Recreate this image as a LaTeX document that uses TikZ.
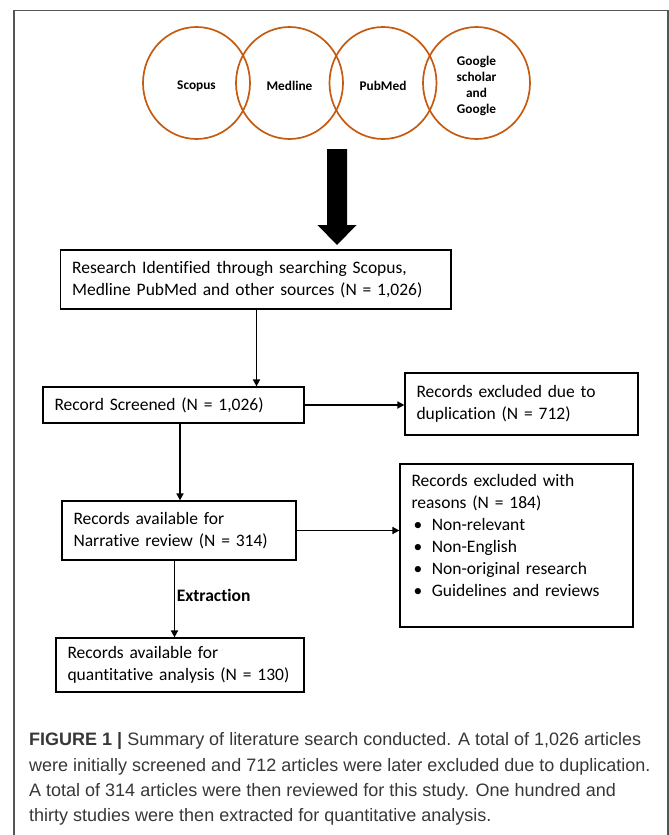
\documentclass[tikz,border=0pt]{standalone}
\usepackage{fontspec}
\setmainfont{Carlito}[Ligatures=NoCommon]
\newfontfamily\capfont{Liberation Sans}
\usetikzlibrary{arrows.meta,shapes.geometric}
\definecolor{srcorange}{RGB}{197,90,17}
\definecolor{framegray}{RGB}{85,85,85}
\definecolor{captext}{RGB}{55,55,55}
\newcommand{\srclower}[1]{\raisebox{-3pt}[\height][\depth]{\parbox{70pt}{\centering #1}}}
\begin{document}
\begin{tikzpicture}[x=1pt,y=-1pt,
  box/.style={draw=black, line width=1.2pt, fill=white, inner xsep=11.5pt, inner ysep=0pt,
    align=left, font=\fontsize{17.5}{22}\selectfont},
  src/.style={draw=srcorange, line width=1.7pt, ellipse, minimum width=107pt, minimum height=112pt,
    inner sep=0pt, font=\bfseries\fontsize{13.3}{16}\selectfont},
  flow/.style={-{Triangle[length=7pt,width=7pt]}, line width=1.6pt, black},
  capline/.style={anchor=base west, inner sep=0pt, text=captext, font=\capfont\fontsize{18}{25}\selectfont},
]
\useasboundingbox (0,0) rectangle (669,835);
\draw[framegray, line width=1.3pt] (14,835) -- (14,10.7) -- (668,10.7) -- (668,835);

% source circles
\node[src] (scopus)  at (196.5,83) {\srclower{Scopus}};
\node[src] (medline) at (289.5,83) {\srclower{Medline}};
\node[src] (pubmed)  at (383,83)   {\srclower{PubMed}};
\node[src] (google)  at (476.5,83) {\srclower{Google\\scholar\\and\\Google}};

% big block arrow
\fill[black] (327,149) -- (347,149) -- (347,225) -- (356.5,225) -- (337,245) -- (317.5,225) -- (327,225) -- cycle;

% boxes
\node[box, minimum width=390.4pt, minimum height=59pt, text width=367.4pt] (b1) at (255.8,279.5)
  {Research Identified through searching Scopus,\\Medline PubMed and other sources (N = 1,026)};
\node[box, minimum width=261pt, minimum height=36pt, text width=238pt] (b2) at (173.5,405)
  {Record Screened (N = 1,026)};
\node[box, minimum width=233pt, minimum height=62pt, text width=210pt] (b3) at (521.5,404)
  {Records excluded due to\\duplication (N = 712)};
\node[box, minimum width=234pt, minimum height=59pt, text width=211pt] (b4) at (179,530.5)
  {Records available for\\Narrative review (N = 314)};
\node[box, minimum width=233pt, minimum height=163pt, text width=210pt] (b5) at (516.5,545.5)
  {\parbox[c][163pt][t]{210pt}{\vspace{10pt}Records excluded with\\reasons (N = 184)\\
   \makebox[20.4pt][l]{\hspace{2pt}\textbullet}Non-relevant\\
   \makebox[20.4pt][l]{\hspace{2pt}\textbullet}Non-English\\
   \makebox[20.4pt][l]{\hspace{2pt}\textbullet}Non-original research\\
   \makebox[20.4pt][l]{\hspace{2pt}\textbullet}Guidelines and reviews}};
\node[box, minimum width=248pt, minimum height=54pt, text width=225pt] (b6) at (180,665)
  {Records available for\\quantitative analysis (N = 130)};

% connectors
\coordinate (t12) at ([xshift=0.7pt]b1.south);
\draw[flow] (t12) -- (t12 |- b2.north);
\draw[flow] (b2.east) -- (b2.east -| b3.west);
\coordinate (t24) at ([xshift=6.5pt]b2.south);
\draw[flow] (t24) -- (t24 |- b4.north);
\draw[flow] (b4.east) -- (b4.east -| b5.west);
\coordinate (t46) at ([xshift=-4.5pt]b4.south);
\draw[flow] (t46) -- node[pos=0.45, anchor=west, inner sep=1.5pt, font=\bfseries\fontsize{17.5}{20}\selectfont] (ext) {Extraction} (t46 |- b6.north);

% caption
\node[capline] (cap1) at (29,745.5) {\textbf{FIGURE 1 |} Summary of literature search conducted. A total of 1,026 articles};
\node[capline] (cap2) at (29,771) {were initially screened and 712 articles were later excluded due to duplication.};
\node[capline] (cap3) at (29,796.5) {A total of 314 articles were then reviewed for this study. One hundred and};
\node[capline] (cap4) at (29,821.5) {thirty studies were then extracted for quantitative analysis.};
\end{tikzpicture}
\end{document}
